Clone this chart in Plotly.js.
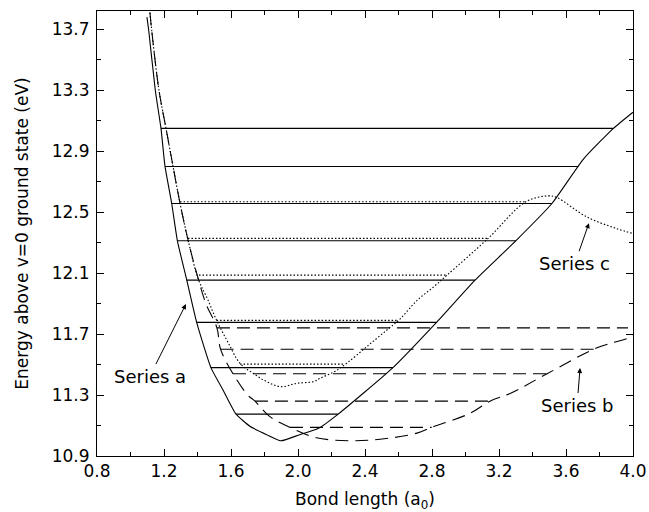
<!DOCTYPE html>
<html>
<head>
<meta charset="utf-8">
<script src="https://cdn.plot.ly/plotly-3.0.1.min.js"></script>
<style>html,body{margin:0;padding:0;background:#fff;}#chart{width:649px;height:512px;}</style>
</head>
<body>
<div id="chart"></div>
<script>
// Series a potential curve (solid)
const aX = [1.098, 1.108, 1.148, 1.182, 1.206, 1.246, 1.28, 1.336, 1.395, 1.48, 1.554, 1.63, 1.713, 1.813, 1.898, 2.01, 2.12, 2.24, 2.567, 2.827, 3.057, 3.30, 3.516, 3.703, 3.883, 4.0];
const aY = [13.78, 13.70, 13.30, 13.05, 12.80, 12.557, 12.312, 12.054, 11.777, 11.48, 11.33, 11.175, 11.095, 11.04, 11.0, 11.04, 11.08, 11.175, 11.48, 11.777, 12.054, 12.312, 12.557, 12.847, 13.05, 13.156];
// Series b potential curve (dashed)
const bX = [1.116, 1.126, 1.17, 1.212, 1.254, 1.296, 1.345, 1.405, 1.45, 1.516, 1.538, 1.612, 1.70, 1.743, 1.83, 1.952, 2.11, 2.31, 2.49, 2.71, 2.798, 3.027, 3.146, 3.266, 3.487, 3.785, 3.964, 4.0];
const bY = [13.81, 13.70, 13.30, 13.05, 12.80, 12.557, 12.31, 12.06, 11.90, 11.741, 11.60, 11.44, 11.30, 11.26, 11.16, 11.088, 11.02, 11.0, 11.01, 11.05, 11.088, 11.18, 11.26, 11.31, 11.44, 11.61, 11.67, 11.69];
// Series c potential curve (dotted)
const cX = [1.116, 1.126, 1.17, 1.212, 1.254, 1.296, 1.345, 1.405, 1.46, 1.514, 1.58, 1.654, 1.733, 1.813, 1.898, 1.992, 2.092, 2.131, 2.211, 2.29, 2.41, 2.53, 2.61, 2.71, 2.81, 2.89, 3.135, 3.36, 3.495, 3.545, 3.724, 3.90, 4.0];
const cY = [13.81, 13.70, 13.30, 13.05, 12.80, 12.557, 12.31, 12.06, 11.93, 11.79, 11.65, 11.508, 11.442, 11.388, 11.355, 11.377, 11.388, 11.41, 11.45, 11.508, 11.617, 11.726, 11.80, 11.92, 12.01, 12.087, 12.328, 12.568, 12.607, 12.596, 12.469, 12.393, 12.36];
// Vibrational levels
const aLevelE = [13.05, 12.80, 12.557, 12.312, 12.054, 11.777, 11.48, 11.175];
const aLevelL = [1.182, 1.206, 1.246, 1.28, 1.336, 1.395, 1.48, 1.63];
const aLevelR = [3.883, 3.673, 3.516, 3.30, 3.057, 2.827, 2.567, 2.24];
const bLevelE = [11.741, 11.60, 11.44, 11.26, 11.088];
const bLevelL = [1.516, 1.538, 1.612, 1.743, 1.952];
const bLevelR = [3.97, 3.77, 3.487, 3.146, 2.798];
const cLevelE = [12.568, 12.328, 12.087, 11.79, 11.503];
const cLevelL = [1.296, 1.343, 1.409, 1.514, 1.654];
const cLevelR = [3.36, 3.135, 2.89, 2.59, 2.27];
// Labels
const seriesNames = ["Series a", "Series b", "Series c"];
const arrowX = [1.331, 3.684, 3.737];
const arrowY = [11.897, 11.477, 12.428];
const xTitle = "Bond length (a<sub>0</sub>)";
const yTitle = "Energy above v=0 ground state (eV)";

const styles = {
  a: {color: "#000", width: 1.1, dash: "solid"},
  b: {color: "#000", width: 1.1, dash: "13px,7px"},
  c: {color: "#000", width: 1.1, dash: "1.5px,2px"}
};

const traces = [];
function curve(x, y, st, sm) {
  traces.push({x: x, y: y, mode: "lines", type: "scatter",
    line: Object.assign({shape: "spline", smoothing: sm}, st), hoverinfo: "skip"});
}
function levels(E, L, R, st) {
  for (let i = 0; i < E.length; i++) {
    traces.push({x: [L[i], R[i]], y: [E[i], E[i]], mode: "lines", type: "scatter", line: st, hoverinfo: "skip"});
  }
}
levels(cLevelE, cLevelL, cLevelR, styles.c);
levels(bLevelE, bLevelL, bLevelR, styles.b);
levels(aLevelE, aLevelL, aLevelR, styles.a);
curve(cX, cY, styles.c, 1.0);
curve(bX, bY, styles.b, 1.0);
curve(aX, aY, styles.a, 0.5);

const fontFam = "DejaVu Sans, Arial, sans-serif";
const offsets = [[-36, 72], [-3, 37], [-14, 40]];
const annotations = seriesNames.map((t, i) => ({
  x: arrowX[i], y: arrowY[i], xref: "x", yref: "y",
  text: t, showarrow: true, arrowhead: 2, arrowsize: 1, arrowwidth: 1, arrowcolor: "#000",
  ax: offsets[i][0], ay: offsets[i][1], standoff: 0, startstandoff: 0,
  font: {family: fontFam, size: 18, color: "#000"}
}));

const axisCommon = {
  showgrid: false, zeroline: false, showline: true, linecolor: "#000", linewidth: 1,
  mirror: "allticks", ticks: "inside", ticklen: 7, tickwidth: 1, tickcolor: "#000",
  tickfont: {family: fontFam, size: 17, color: "#000"}
};

const layout = {
  width: 649, height: 512,
  margin: {l: 97, r: 16, t: 11, b: 56},
  paper_bgcolor: "#fff", plot_bgcolor: "#fff",
  showlegend: false, hovermode: false,
  font: {family: fontFam, color: "#000"},
  xaxis: Object.assign({}, axisCommon, {
    range: [0.8, 4.0], tick0: 0.8, dtick: 0.4, tickformat: ".1f",
    minor: {dtick: 0.2, tick0: 0.8, ticks: "inside", ticklen: 4, tickcolor: "#000", tickwidth: 1},
    title: {text: xTitle, font: {family: fontFam, size: 17, color: "#000"}, standoff: 14}
  }),
  yaxis: Object.assign({}, axisCommon, {
    range: [10.9, 13.82], tick0: 10.9, dtick: 0.4, tickformat: ".1f",
    ticklabelstandoff: 3,
    minor: {dtick: 0.2, tick0: 10.9, ticks: "inside", ticklen: 4, tickcolor: "#000", tickwidth: 1},
    title: {text: yTitle, font: {family: fontFam, size: 17, color: "#000"}, standoff: 18}
  }),
  annotations: annotations
};

Plotly.newPlot("chart", traces, layout, {staticPlot: true, displayModeBar: false});
</script>
</body>
</html>
